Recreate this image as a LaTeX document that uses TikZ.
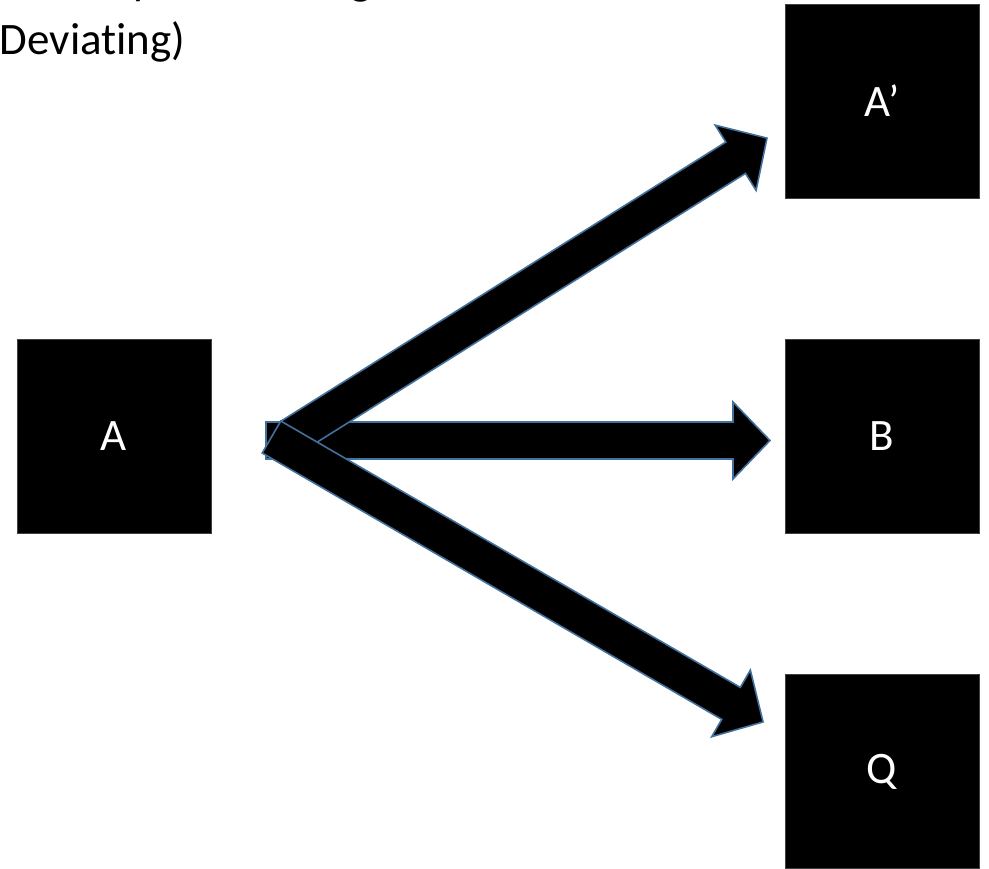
\documentclass[tikz,border=0pt]{standalone}
\usepackage{fontspec}
\setmainfont{Carlito}[Ligatures=NoCommon]
\definecolor{arrowedge}{HTML}{41719C}
\tikzset{
  box/.style={draw=black!75, line width=0.8pt, fill=black, text=white,
    minimum width=194pt, minimum height=194pt, inner sep=0pt,
    font=\fontsize{45}{54}\selectfont},
  title/.style={anchor=base west, inner sep=0pt, font=\fontsize{45}{54}\selectfont},
  blockarrow/.style={draw=arrowedge, fill=black, line width=1.6pt, line join=miter}
}
% block arrow: #1 = tail coordinate, #2 = angle, #3 = length (pt)
\newcommand\fatarrow[3]{%
  \begin{scope}[shift={(#1)}, rotate=#2]
    \draw[blockarrow] (0pt,-18.5pt) -- (#3pt-37pt,-18.5pt) -- (#3pt-37pt,-38.5pt)
      -- (#3pt,0pt) -- (#3pt-37pt,38.5pt) -- (#3pt-37pt,18.5pt) -- (0pt,18.5pt) -- cycle;
  \end{scope}}
\begin{document}
\begin{tikzpicture}[x=1pt,y=1pt]
  \useasboundingbox (0,0) rectangle (989,-869);
  \clip (0,0) rectangle (989,-869);

  % heading, partly outside the frame
  \node[title] (title1) at (5,5.5) {Stability of Ordering};
  \node[title] (title2) at (-14,-55) {(Deviating)};

  % states
  \node[box] (A)  at (114,-436)   {A};
  \node[box] (A2) at (882,-101)   {A’};
  \node[box] (B)  at (882,-436)   {B};
  \node[box] (Q)  at (882,-771.5) {Q};

  % arrow tails
  \coordinate (tailB)  at (266,-440.5);
  \coordinate (tailA2) at (290.5,-437);
  \coordinate (tailQ)  at (271.5,-437);

  \fatarrow{tailB}{0}{504}
  \fatarrow{tailA2}{32.1}{562.5}
  \fatarrow{tailQ}{-30.1}{568.2}
\end{tikzpicture}
\end{document}
